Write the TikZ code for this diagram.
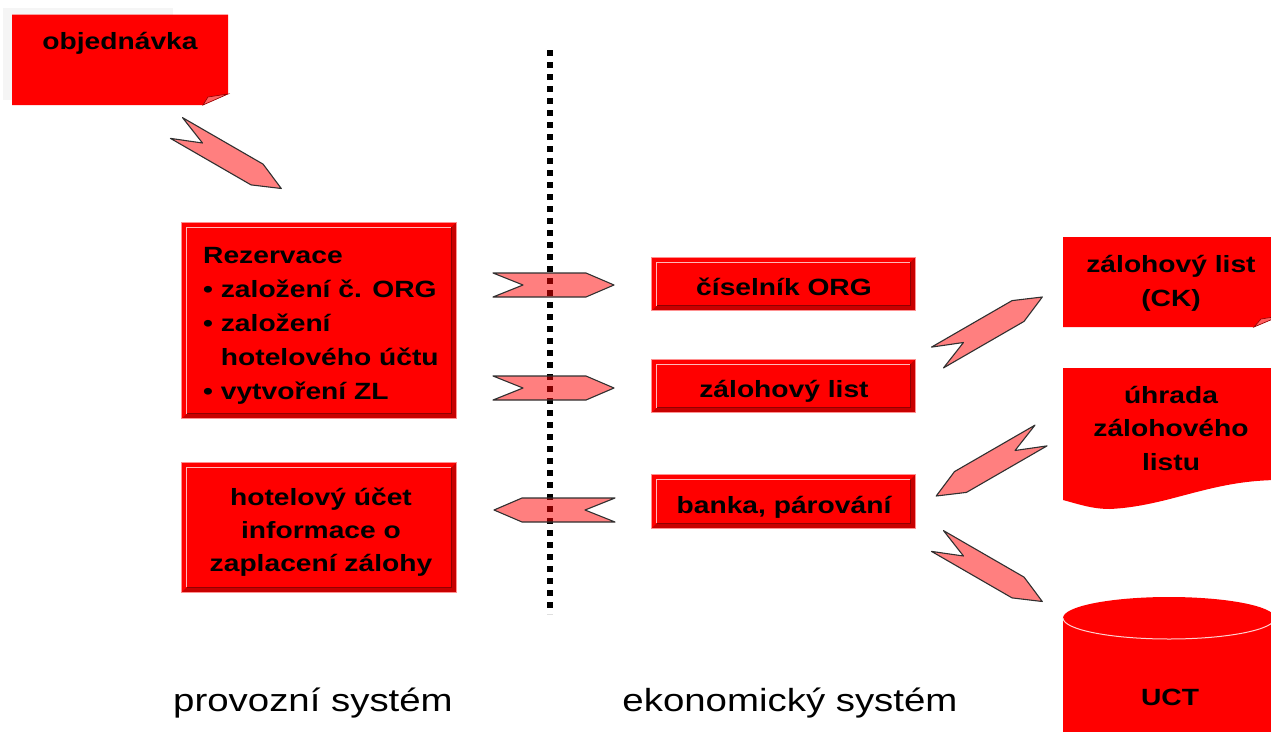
\documentclass[tikz,border=0pt]{standalone}
\usepackage{fontspec}
\setmainfont{Liberation Sans}[FakeStretch=1.2]
\definecolor{boxred}{HTML}{FF0000}
\definecolor{bevdark}{HTML}{C80000}
\definecolor{bevlight}{HTML}{FFB8B8}
\definecolor{bevshade}{HTML}{900000}
\definecolor{bevedge}{HTML}{FF9090}
\definecolor{flapred}{HTML}{FF6060}
\definecolor{arrowline}{HTML}{303030}
\definecolor{seam}{HTML}{FFD0D0}
\tikzset{
  boxtext/.style={font=\fontsize{23.5}{34}\selectfont\bfseries, text=black, inner sep=0pt},
  bevbox/.style={fill=boxred, inner sep=0pt},
  flowarrow/.style={fill=red, fill opacity=0.5, draw=arrowline, line width=1.1pt, line join=round},
  syslabel/.style={font=\fontsize{32}{38}\selectfont, text=black, inner sep=0pt},
  divider/.style={line width=6pt, dash pattern=on 6pt off 6pt},
}
\newcommand\bevelframe[1]{%
  \fill[bevdark] (#1.south west) -- (#1.south east) -- (#1.north east)
    -- ([shift={(-5,5)}]#1.north east) -- ([shift={(-5,-5)}]#1.south east)
    -- ([shift={(5,-5)}]#1.south west) -- cycle;
  \draw[bevlight, line width=1.2pt] ([shift={(5,-5)}]#1.south west)
    -- ([shift={(5,5)}]#1.north west) -- ([shift={(-5,5)}]#1.north east);
  \draw[bevshade, line width=1.2pt] ([shift={(-5,5)}]#1.north east)
    -- ([shift={(-5,-5)}]#1.south east) -- ([shift={(5,-5)}]#1.south west);
  \draw[bevedge, line width=1.2pt] (#1.south west) rectangle (#1.north east);
}
\newcommand\blockarrow[3]{%
  \draw[flowarrow, shift={(#1,#2)}, rotate=#3]
    (0,-12) -- (93,-12) -- (121,0) -- (93,12) -- (0,12) -- (30,0) -- cycle;
}
\begin{document}
\begin{tikzpicture}[x=1pt, y=-1pt]
\useasboundingbox (0,0) rectangle (1271,731);
\clip (0,0) rectangle (1271,731);
\fill[white] (0,0) rectangle (1271,731);

% objednavka (document with folded corner)
\fill[black!4] (3,8) rectangle (173,100);
\fill[boxred] (12,14.5) -- (228,14.5) -- (228,94) -- (203,105) -- (12,105) -- cycle;
\filldraw[fill=flapred, draw=bevshade, line width=0.6pt] (203,105) -- (208,97) -- (228,94) -- cycle;
\node[boxtext, anchor=base] (obj) at (120,49) {objednávka};

% divider
\coordinate (divtop) at (550,50);
\coordinate (divbot) at (550,614);
\draw[divider] (divtop) -- (divbot);

% left boxes (multi-line text: base anchor = baseline of last line)
\node[bevbox, minimum width=274pt, minimum height=196pt] (rez) at (319,320.5) {};
\bevelframe{rez}
\node[boxtext, anchor=base west, align=left] (reztext) at (203,399)
  {Rezervace\\
   \textbullet\ založení č. ORG\\
   \textbullet\ založení\\
   \phantom{\textbullet\ }hotelového účtu\\
   \textbullet\ vytvoření ZL};

\node[bevbox, minimum width=274pt, minimum height=129pt] (hot) at (319,527.5) {};
\bevelframe{hot}
\node[boxtext, anchor=base, align=center, font=\fontsize{23.5}{33}\selectfont\bfseries] (hottext) at (321,571)
  {hotelový účet\\ informace o\\ zaplacení zálohy};

% middle boxes
\node[bevbox, minimum width=263pt, minimum height=53pt] (cis) at (783.5,284) {};
\bevelframe{cis}
\node[boxtext, anchor=base] (cistext) at (784,295) {číselník ORG};

\node[bevbox, minimum width=263pt, minimum height=53pt] (zal) at (783.5,386) {};
\bevelframe{zal}
\node[boxtext, anchor=base] (zaltext) at (784,397) {zálohový list};

\node[bevbox, minimum width=263pt, minimum height=53pt] (ban) at (783.5,501.5) {};
\bevelframe{ban}
\node[boxtext, anchor=base] (bantext) at (784,513) {banka, párování};

% right: zalohovy list (CK)
\fill[boxred] (1063,237) -- (1280,237) -- (1280,316) -- (1254,327) -- (1063,327) -- cycle;
\filldraw[fill=flapred, draw=bevshade, line width=0.6pt] (1254,327) -- (1261,319) -- (1280,316) -- cycle;
\node[boxtext, anchor=base, align=center] (zlck) at (1171,306) {zálohový list\\ (CK)};

% right: uhrada zalohoveho listu (document with wavy bottom)
\fill[boxred] (1063,368) -- (1280,368) -- (1280,480)
  .. controls (1210,480) and (1170,506) .. (1110,509)
  .. controls (1092,509) and (1078,504) .. (1063,500) -- cycle;
\node[boxtext, anchor=base, align=center, font=\fontsize{23.5}{33.5}\selectfont\bfseries] (uhr) at (1171,470) {úhrada\\ zálohového\\ listu};

% right: UCT cylinder
\fill[boxred] (1063,618) rectangle (1280,745);
\fill[boxred] (1169,618) ellipse [x radius=106, y radius=21];
\draw[seam, line width=1pt] (1063,618) arc[start angle=180, end angle=0, x radius=106, y radius=21];
\node[boxtext, anchor=base] (uct) at (1170,705) {UCT};

% block arrows
\blockarrow{176.5}{128}{-30}
\blockarrow{493}{285}{0}
\blockarrow{493}{388}{0}
\blockarrow{615}{510}{180}
\blockarrow{937.5}{357.5}{30}
\blockarrow{1041}{435.5}{210}
\blockarrow{937.5}{541}{-30}

% system labels
\node[syslabel, anchor=base] (prov) at (313,711) {provozní systém};
\node[syslabel, anchor=base] (ekon) at (790,711) {ekonomický systém};
\end{tikzpicture}
\end{document}
